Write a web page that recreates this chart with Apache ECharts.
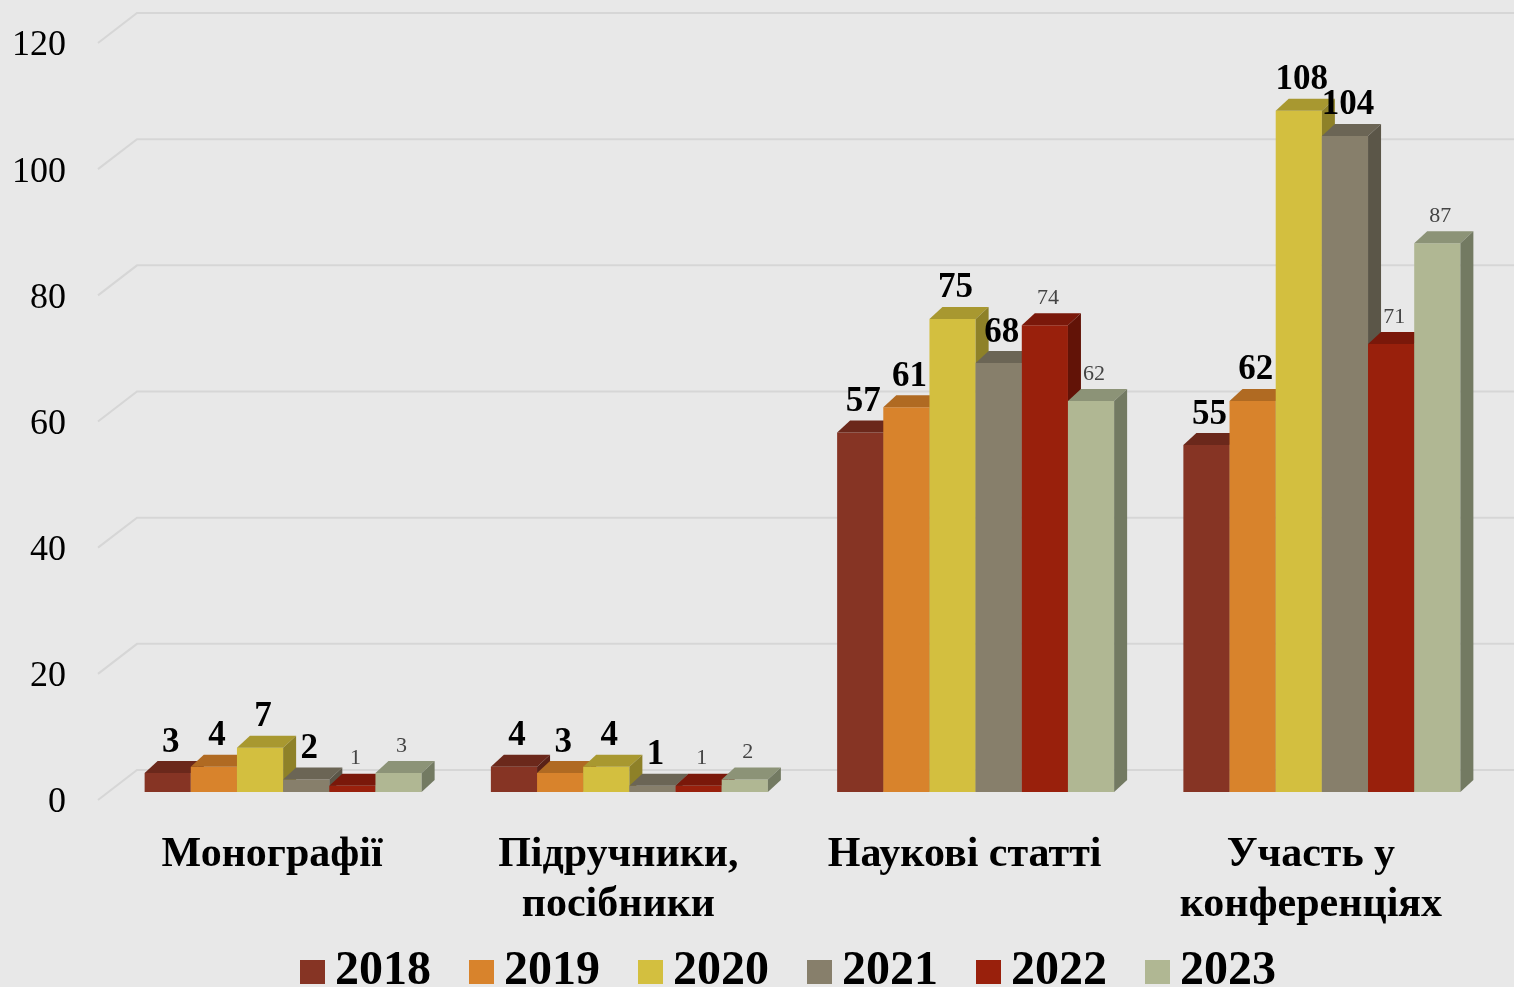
<!DOCTYPE html>
<html>
<head>
<meta charset="utf-8">
<script src="https://cdn.jsdelivr.net/npm/echarts@6/dist/echarts.min.js"></script>
<style>
  html, body { margin: 0; padding: 0; background: #e8e8e8; }
  #main { width: 1514px; height: 987px; }
</style>
</head>
<body>
<div id="main"></div>
<script>
const categories = ['Монографії', 'Підручники,\nпосібники', 'Наукові статті', 'Участь у\nконференціях'];
const years = ['2018', '2019', '2020', '2021', '2022', '2023'];
const v2018 = [3, 4, 57, 55];
const v2019 = [4, 3, 61, 62];
const v2020 = [7, 4, 75, 108];
const v2021 = [2, 1, 68, 104];
const v2022 = [1, 1, 74, 71];
const v2023 = [3, 2, 62, 87];
const yTicks = [0, 20, 40, 60, 80, 100, 120];

const values = [v2018, v2019, v2020, v2021, v2022, v2023];
// front / top / side shades for each year
const front = ['#863424', '#d8832c', '#d3bf3f', '#877f6b', '#99200c', '#b0b793'];
const topC = ['#6b281b', '#b06a22', '#a89830', '#6b6555', '#7a180a', '#8c9377'];
const side = ['#5a2117', '#985a1c', '#8e8128', '#5b5648', '#621307', '#737a62'];
const boldLabel = [true, true, true, true, false, false];

const FONT = "'Liberation Serif', 'Times New Roman', serif";
const DX = 13, DY = -12;

let chartDom = document.getElementById('main');
let myChart = echarts.init(chartDom);

function barRenderer(i) {
  return function (params, api) {
    const cat = api.value(0);
    const val = api.value(1);
    const base = api.coord([cat, 0]);
    const tp = api.coord([cat, val]);
    const band = api.size([1, 0])[0];
    const w = band * 0.8 / years.length;
    const x0 = base[0] - band * 0.4 + i * w;
    const by = base[1], ty = tp[1];
    return {
      type: 'group',
      children: [
        { type: 'rect', shape: { x: x0, y: ty, width: w, height: by - ty }, style: { fill: front[i] } },
        { type: 'polygon', shape: { points: [[x0, ty], [x0 + DX, ty + DY], [x0 + w + DX, ty + DY], [x0 + w, ty]] }, style: { fill: topC[i] } },
        { type: 'polygon', shape: { points: [[x0 + w, ty], [x0 + w + DX, ty + DY], [x0 + w + DX, by + DY], [x0 + w, by]] }, style: { fill: side[i] } },
        {
          type: 'text', z2: 100,
          x: x0 + w / 2 + 3, y: ty + DY - (boldLabel[i] ? 1 : 4),
          style: {
            text: String(val),
            fill: boldLabel[i] ? '#000' : '#444',
            font: (boldLabel[i] ? 'bold 35px ' : '22px ') + FONT,
            textAlign: 'center', textVerticalAlign: 'bottom'
          }
        }
      ]
    };
  };
}

const series = [{
  type: 'custom',
  name: 'grid',
  silent: true,
  z: 1,
  data: yTicks.map(t => [0, t]),
  renderItem: function (params, api) {
    const cs = params.coordSys;
    const y = api.coord([0, api.value(1)])[1];
    return {
      type: 'polyline',
      shape: { points: [[cs.x - 12, y + 8], [cs.x + 27, y - 22], [cs.x + cs.width + 19, y - 22]] },
      style: { stroke: '#d6d6d6', lineWidth: 2, fill: null }
    };
  }
}];

years.forEach((yr, i) => {
  series.push({
    type: 'custom',
    name: yr,
    z: 2,
    itemStyle: { color: front[i] },
    data: values[i].map((v, c) => [c, v]),
    renderItem: barRenderer(i)
  });
});

const option = {
  backgroundColor: '#e8e8e8',
  animation: false,
  grid: { left: 110, right: 19, top: 35, bottom: 195 },
  legend: {
    data: years,
    left: 300,
    top: 948,
    padding: 0,
    itemWidth: 25,
    itemHeight: 24,
    itemGap: 38,
    icon: 'rect',
    textStyle: { fontFamily: FONT, fontWeight: 'bold', fontSize: 48, color: '#000', padding: [0, 0, 0, 5] }
  },
  xAxis: {
    type: 'category',
    data: categories,
    axisLine: { show: false },
    axisTick: { show: false },
    axisLabel: {
      interval: 0,
      margin: 38,
      padding: [0, 22, 0, 0],
      fontFamily: FONT,
      fontWeight: 'bold',
      fontSize: 42,
      lineHeight: 50,
      color: '#000',
      verticalAlign: 'top'
    }
  },
  yAxis: {
    type: 'value',
    min: 0,
    max: 120,
    interval: 20,
    axisLine: { show: false },
    axisTick: { show: false },
    splitLine: { show: false },
    axisLabel: {
      margin: 44,
      verticalAlign: 'top',
      lineHeight: 22,
      fontFamily: FONT,
      fontSize: 36,
      color: '#000'
    }
  },
  series: series
};

myChart.setOption(option);
</script>
</body>
</html>
